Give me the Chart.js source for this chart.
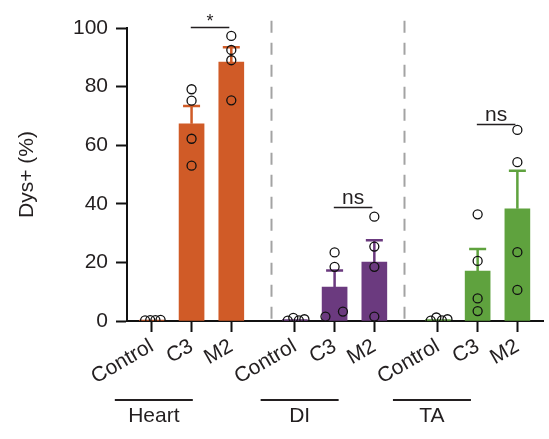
<!DOCTYPE html>
<html>
<head>
<meta charset="utf-8">
<script src="https://cdn.jsdelivr.net/npm/chart.js@4/dist/chart.umd.min.js"></script>
<style>
  html, body { margin: 0; padding: 0; background: #fff; }
  #wrap { width: 549px; height: 439px; position: relative; }
</style>
</head>
<body>
<div id="wrap"><canvas id="c"></canvas></div>
<script>
// ---- data ----
const tissues = ['Heart', 'DI', 'TA'];
const conditions = ['Control', 'C3', 'M2'];

// bar heights (mean Dys+ %) per tissue, in condition order
const heartMeans = [0.3, 67.3, 88.4];
const diMeans    = [0.5, 11.6, 20.1];
const taMeans    = [0.5, 17.0, 38.3];

// SEM (upper error bar)
const heartSem = [0, 6.1, 5.0];
const diSem    = [0, 5.6, 7.5];
const taSem    = [0, 7.6, 13.0];

// individual animals
const heartPoints = [[0.2, 0.3, 0.3, 0.4], [79.1, 75.2, 62.2, 53.0], [97.3, 92.5, 89.0, 75.3]];
const diPoints    = [[0.1, 1.1, 0.2, 0.6], [23.4, 18.5, 3.2, 1.5], [35.6, 25.4, 18.5, 1.5]];
const taPoints    = [[0.1, 1.2, 0.2, 0.6], [36.4, 20.5, 7.7, 3.4], [65.2, 54.2, 23.5, 10.6]];

// comparisons between C3 and M2
const compLabels = ['*', 'ns', 'ns'];
const compLevels = [100.3, 38.9, 67.3];

const yTicks = [0, 20, 40, 60, 80, 100];

// ---- layout helpers ----
const groupStep = 3.6;                      // distance between tissue groups on x
const pos = (g, i) => g * groupStep + i;
const jitter = [                            // horizontal spread of dots (x units)
  [[-0.17, -0.04, 0.09, 0.22], [0, 0, 0, 0], [0, 0, 0, 0]],
  [[-0.18, -0.04, 0.1, 0.24], [0, 0, 0.21, -0.23], [0, 0, 0, 0]],
  [[-0.18, -0.04, 0.1, 0.24], [0, 0, 0, 0], [0, 0, 0, 0]]
];
const colors = ['#D05B27', '#6B3A7F', '#5FA23E'];
const textColor = '#231F20';
const font = 'Liberation Sans, Arial, sans-serif';

const means = [heartMeans, diMeans, taMeans];
const sems = [heartSem, diSem, taSem];
const points = [heartPoints, diPoints, taPoints];

const barData = [], barColors = [], dotData = [], tickPos = [], tickLabels = [];
tissues.forEach((t, g) => {
  conditions.forEach((c, i) => {
    barData.push({ x: pos(g, i), y: means[g][i] });
    barColors.push(colors[g]);
    tickPos.push(pos(g, i));
    tickLabels.push(c);
    points[g][i].forEach((v, k) => dotData.push({ x: pos(g, i) + jitter[g][i][k], y: v }));
  });
});

// error bars, separators, comparison brackets and tissue labels
const extras = {
  id: 'extras',
  beforeDatasetsDraw(chart) {
    const { ctx, scales: { x, y } } = chart;
    ctx.save();
    // dashed separators between tissues
    ctx.strokeStyle = '#A3A3A3';
    ctx.lineWidth = 2;
    ctx.setLineDash([12, 10]);
    [3.0, 6.35].forEach(v => {
      const px = Math.round(x.getPixelForValue(v)) + 0.5;
      ctx.beginPath();
      ctx.moveTo(px, y.getPixelForValue(102.5));
      ctx.lineTo(px, y.getPixelForValue(0));
      ctx.stroke();
    });
    ctx.setLineDash([]);
    // upper SEM bars
    ctx.lineWidth = 2.5;
    tissues.forEach((t, g) => {
      conditions.forEach((c, i) => {
        if (!sems[g][i]) return;
        const px = x.getPixelForValue(pos(g, i));
        const top = y.getPixelForValue(means[g][i] + sems[g][i]);
        ctx.strokeStyle = colors[g];
        ctx.beginPath();
        ctx.moveTo(px, y.getPixelForValue(means[g][i]));
        ctx.lineTo(px, top);
        ctx.moveTo(px - 8.5, top);
        ctx.lineTo(px + 8.5, top);
        ctx.stroke();
      });
    });
    ctx.restore();
  },
  afterDraw(chart) {
    const { ctx, scales: { x, y } } = chart;
    ctx.save();
    ctx.strokeStyle = textColor;
    ctx.fillStyle = textColor;
    // comparison brackets
    tissues.forEach((t, g) => {
      const x1 = x.getPixelForValue(pos(g, 1) - 0.02);
      const x2 = x.getPixelForValue(pos(g, 2) - 0.05);
      const py = Math.round(y.getPixelForValue(compLevels[g])) + 0.5;
      ctx.lineWidth = 1.5;
      ctx.beginPath();
      ctx.moveTo(x1, py);
      ctx.lineTo(x2, py);
      ctx.stroke();
      ctx.textAlign = 'center';
      ctx.textBaseline = 'alphabetic';
      if (compLabels[g] === '*') {
        ctx.font = '18px ' + font;
        ctx.fillText('*', (x1 + x2) / 2, py - 1);
      } else {
        ctx.font = '21px ' + font;
        ctx.fillText(compLabels[g], (x1 + x2) / 2, py - 4);
      }
    });
    // tissue group labels under the axis
    const centers = [0.05, 3.72, 7.05];
    tissues.forEach((t, g) => {
      const cx = x.getPixelForValue(centers[g]);
      ctx.lineWidth = 2;
      ctx.beginPath();
      ctx.moveTo(cx - 39, 400);
      ctx.lineTo(cx + 39, 400);
      ctx.stroke();
      ctx.font = '21px ' + font;
      ctx.textAlign = 'center';
      ctx.textBaseline = 'middle';
      ctx.fillText(t, cx, 416);
    });
    ctx.restore();
  }
};

new Chart(document.getElementById('c'), {
  type: 'bar',
  data: {
    datasets: [
      {
        type: 'scatter',
        data: dotData,
        pointRadius: 4.5,
        pointHoverRadius: 4.5,
        pointBorderWidth: 1.3,
        pointBackgroundColor: 'rgba(0,0,0,0)',
        pointBorderColor: '#111',
        order: 0
      },
      {
        type: 'bar',
        data: barData,
        backgroundColor: barColors,
        borderWidth: 0,
        barThickness: 25,
        order: 1
      }
    ]
  },
  options: {
    responsive: true,
    maintainAspectRatio: false,
    animation: false,
    layout: { padding: { top: 28, right: 3, left: 0, bottom: 0 } },
    plugins: { legend: { display: false }, tooltip: { enabled: false } },
    scales: {
      x: {
        type: 'linear',
        min: -0.625,
        max: 9.85,
        offset: false,
        afterBuildTicks(scale) { scale.ticks = tickPos.map(v => ({ value: v })); },
        afterFit(scale) { scale.height = 118; },
        grid: { offset: false, drawOnChartArea: false, drawTicks: true, tickLength: 11, tickWidth: 2, tickColor: '#111' },
        border: { color: '#111', width: 2 },
        ticks: {
          autoSkip: false,
          minRotation: 30,
          maxRotation: 30,
          padding: 2,
          color: textColor,
          font: { family: font, size: 21 },
          callback: (v, i) => tickLabels[i]
        }
      },
      y: {
        min: 0,
        max: 100,
        afterBuildTicks(scale) { scale.ticks = yTicks.map(v => ({ value: v })); },
        afterFit(scale) { scale.width = 127; },
        grid: { drawOnChartArea: false, drawTicks: true, tickLength: 11, tickWidth: 2, tickColor: '#111' },
        border: { color: '#111', width: 2 },
        ticks: { padding: 8, color: textColor, font: { family: font, size: 21 } },
        title: {
          display: true,
          text: 'Dys+ (%)',
          color: textColor,
          font: { family: font, size: 21 },
          padding: { top: 15, bottom: 0 }
        }
      }
    }
  },
  plugins: [extras]
});
</script>
</body>
</html>
